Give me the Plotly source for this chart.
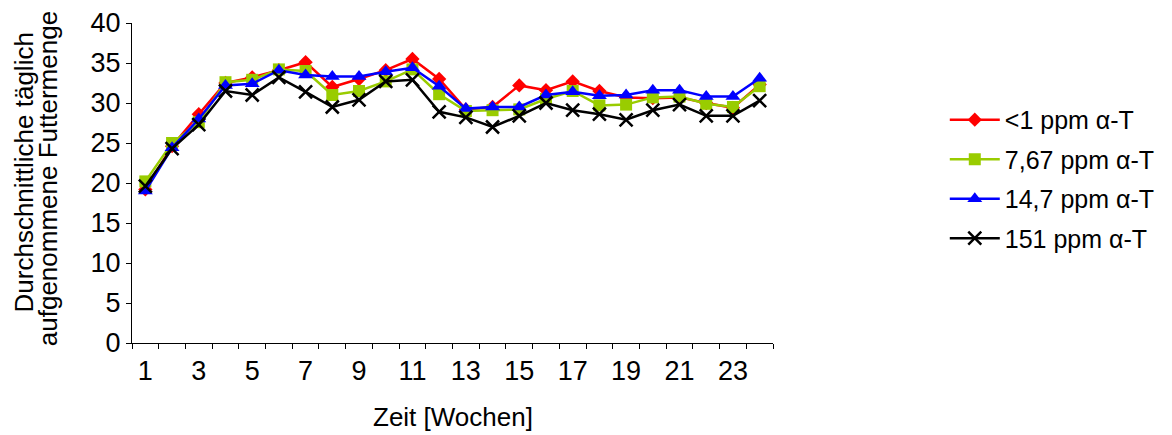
import plotly.graph_objects as go

weeks = list(range(1, 25))
tick_weeks = list(range(1, 24, 2))

s_lt1 = [19.2, 24.6, 28.6, 32.5, 33.2, 34.1, 35.1, 32.0, 33.0, 34.1, 35.5, 33.0,
         29.2, 29.5, 32.2, 31.6, 32.7, 31.5, 30.7, 30.6, 30.7, 30.0, 29.4, 32.3]
s_767 = [20.2, 25.0, 27.6, 32.6, 32.9, 34.2, 34.0, 31.0, 31.5, 32.7, 34.2, 31.1,
         29.0, 29.1, 29.2, 30.5, 31.5, 29.7, 29.8, 30.7, 30.8, 29.9, 29.5, 32.1]
s_147 = [19.0, 24.4, 28.0, 32.2, 32.4, 34.1, 33.5, 33.3, 33.3, 33.9, 34.4, 32.1,
         29.3, 29.5, 29.5, 31.0, 31.4, 30.9, 31.0, 31.6, 31.6, 30.8, 30.8, 33.1]
s_151 = [19.6, 24.3, 27.3, 31.5, 31.0, 33.2, 31.4, 29.5, 30.4, 32.7, 32.9, 28.9,
         28.2, 27.0, 28.4, 30.0, 29.1, 28.6, 27.9, 29.1, 29.8, 28.4, 28.4, 30.3]

names = ["<1 ppm α-T", "7,67 ppm α-T", "14,7 ppm α-T", "151 ppm α-T"]
FONT = "Liberation Sans, Arial, sans-serif"

fig = go.Figure()
specs = [
    (s_lt1, names[0], "#FF0000", "diamond", 11, None),
    (s_767, names[1], "#99CC00", "square", 12, None),
    (s_147, names[2], "#0000FF", "triangle-up", 13, None),
    (s_151, names[3], "#000000", "x-thin", 13, dict(width=2.5, color="#000000")),
]
for vals, nm, col, sym, sz, ml in specs:
    marker = dict(symbol=sym, size=sz, color=col)
    if ml:
        marker["line"] = ml
    fig.add_trace(go.Scatter(
        x=weeks, y=vals, name=nm, mode="lines+markers",
        line=dict(color=col, width=2.5), marker=marker, legendgroup=nm,
    ))

# page body has an 8px margin: shrink figure so the plot area lands at
# x 132..780, y 23..343 in the window
fig.update_layout(
    width=1164, height=427,
    margin=dict(l=124, r=392, t=15, b=92),
    paper_bgcolor="white", plot_bgcolor="white",
    font=dict(family=FONT, color="black", size=26),
    showlegend=True,
    legend=dict(x=1.268, y=0.769, xanchor="left", yanchor="top",
                font=dict(size=25, family=FONT), itemwidth=50,
                tracegroupgap=4, bgcolor="rgba(0,0,0,0)"),
    xaxis=dict(range=[0.5, 24.5], tickmode="array", tickvals=tick_weeks,
               ticktext=[str(w) for w in tick_weeks], automargin=False,
               ticks="outside", ticklen=4, tickcolor="rgba(0,0,0,0)",
               showline=True, linecolor="black", linewidth=1,
               showgrid=False, zeroline=False,
               tickfont=dict(size=27),
               minor=dict(tickmode="linear", tick0=0.5, dtick=1, ticks="outside",
                          ticklen=5, tickcolor="black", tickwidth=1, showgrid=False)),
    yaxis=dict(range=[0, 40], tickmode="linear", tick0=0, dtick=5, automargin=False,
               ticks="outside", ticklen=5, tickcolor="black",
               showline=True, linecolor="black", linewidth=1,
               showgrid=False, zeroline=False, tickfont=dict(size=27)),
)

fig.add_annotation(text="Zeit [Wochen]", xref="paper", yref="paper",
                   x=0.5, y=-0.2306, xanchor="center", yanchor="middle",
                   showarrow=False, font=dict(size=26))
fig.add_annotation(text="Durchschnittliche täglich", xref="paper", yref="paper",
                   x=(23 - 132) / 648, y=(342.7 - 172) / 320, textangle=-90,
                   xanchor="center", yanchor="middle", showarrow=False,
                   font=dict(size=26))
fig.add_annotation(text="aufgenommene Futtermenge", xref="paper", yref="paper",
                   x=(47 - 132) / 648, y=(342.7 - 178) / 320, textangle=-90,
                   xanchor="center", yanchor="middle", showarrow=False,
                   font=dict(size=26))

fig.write_html("out.html")
